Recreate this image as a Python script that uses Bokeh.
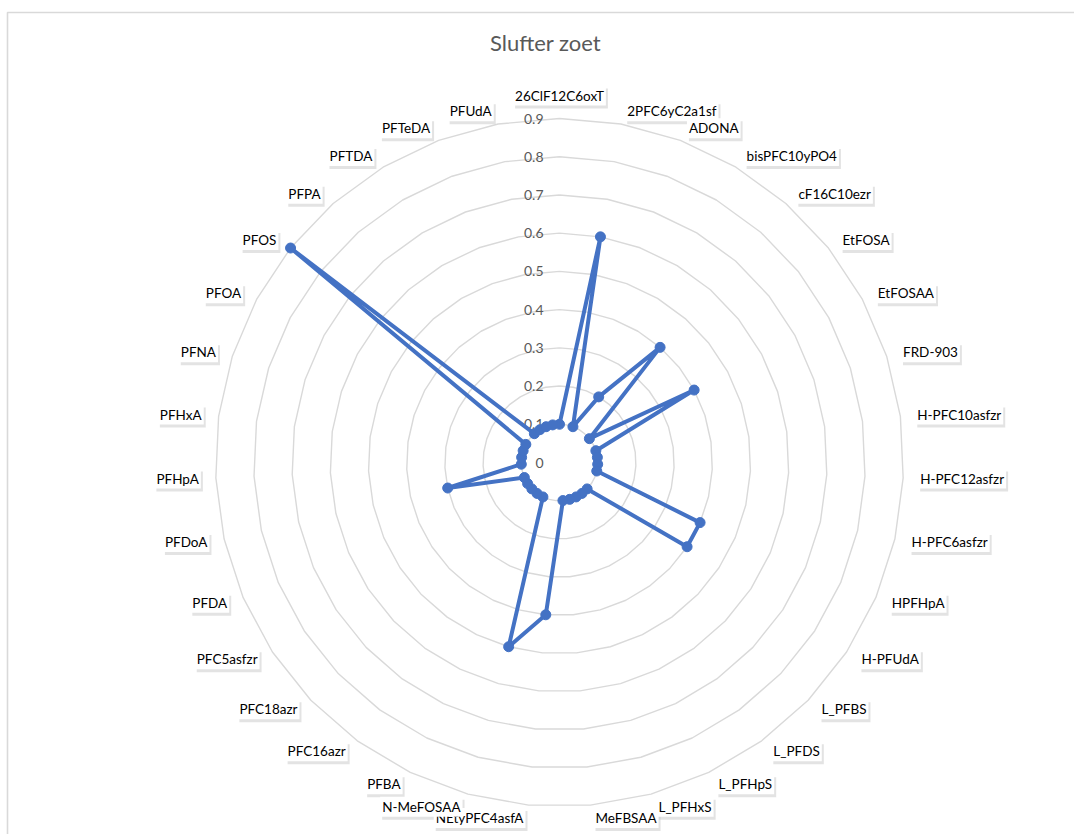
import numpy as np
from bokeh.plotting import figure
from bokeh.models import ColumnDataSource, Range1d
from bokeh.core.properties import value
from bokeh.embed import file_html
from bokeh.resources import INLINE

# ---- data -------------------------------------------------------------
title_text = "Slufter zoet"

categories = [
    "26ClF12C6oxT", "2PFC6yC2a1sf", "ADONA", "bisPFC10yPO4", "cF16C10ezr",
    "EtFOSA", "EtFOSAA", "FRD-903", "H-PFC10asfzr", "H-PFC12asfzr",
    "H-PFC6asfzr", "HPFHpA", "H-PFUdA", "L_PFBS", "L_PFDS",
    "L_PFHpS", "L_PFHxS", "MeFBSAA", "NEtyPFC4asfA", "N-MeFOSAA",
    "PFBA", "PFC16azr", "PFC18azr", "PFC5asfzr", "PFDA",
    "PFDoA", "PFHpA", "PFHxA", "PFNA", "PFOA",
    "PFOS", "PFPA", "PFTDA", "PFTeDA", "PFUdA",
]

concentration = [
    0.1, 0.6, 0.1, 0.2, 0.4,
    0.1, 0.4, 0.1, 0.1, 0.1,
    0.1, 0.4, 0.4, 0.1, 0.1,
    0.1, 0.1, 0.1, 0.4, 0.5,
    0.1, 0.1, 0.1, 0.1, 0.1,
    0.3, 0.1, 0.1, 0.1, 0.1,
    0.9, 0.1, 0.1, 0.1, 0.1,
]

ring_levels = [0.1, 0.2, 0.3, 0.4, 0.5, 0.6, 0.7, 0.8, 0.9]
tick_values = [0.0] + ring_levels
tick_labels = ["0", "0.1", "0.2", "0.3", "0.4", "0.5", "0.6", "0.7", "0.8", "0.9"]

# ---- layout (pixels) --------------------------------------------------
W, H = 1074, 834
CX, CY = 559, 462          # centre of the radar
R_OUT = 344                # radius of the outermost ring
R_MAX = ring_levels[-1]
PX = R_OUT / R_MAX         # pixels per unit
R_LABEL = 357 / PX         # radius where category labels are anchored

GRID = "#d9d9d9"
SERIES = "#4472C4"
TEXT_GREY = "#595959"
FONT = "Lato"


def to_data(px, py):
    return (px - CX) / PX, (CY - py) / PX


p = figure(
    width=W, height=H,
    x_range=Range1d(-CX / PX, (W - CX) / PX),
    y_range=Range1d(-(H - CY) / PX, CY / PX),
    x_axis_type=None, y_axis_type=None,
    output_backend="svg", toolbar_location=None, min_border=0,
)
p.grid.visible = False
p.outline_line_color = None
p.background_fill_color = "white"
p.border_fill_color = "white"

# chart area frame (left and top edges visible)
lx0, ly0 = to_data(7, 12)
lx1, ly1 = to_data(7, H + 10)
tx1, ty1 = to_data(W + 10, 12)
p.line([lx1, lx0, tx1], [ly1, ly0, ty1], line_color=GRID, line_width=1.6)

n = len(categories)
theta = 2 * np.pi * np.arange(n) / n
sin_t, cos_t = np.sin(theta), np.cos(theta)

# polygonal rings
ring_xs = [list(np.append(lvl * sin_t, lvl * sin_t[0])) for lvl in ring_levels]
ring_ys = [list(np.append(lvl * cos_t, lvl * cos_t[0])) for lvl in ring_levels]
p.multi_line(ring_xs, ring_ys, line_color=GRID, line_width=1.4)

# value axis labels
p.text(x=[0.0] * len(tick_values), y=tick_values, text=tick_labels,
       x_offset=-16, text_align="right", text_baseline="middle",
       text_font=value(FONT), text_font_size="14px", text_color=TEXT_GREY)

# series
vals = np.array(concentration)
sx = vals * sin_t
sy = vals * cos_t
p.line(list(np.append(sx, sx[0])), list(np.append(sy, sy[0])),
       line_color=SERIES, line_width=4, line_join="round")
p.scatter(sx, sy, size=10, fill_color=SERIES, line_color=SERIES)

# category labels
aligns, baselines = [], []
for s, c in zip(sin_t, cos_t):
    if abs(s) < 0.02:
        aligns.append("center")
        baselines.append("bottom" if c > 0 else "top")
    else:
        aligns.append("left" if s > 0 else "right")
        baselines.append("middle")

xo = [2 if a == "left" else (-2 if a == "right" else 0) for a in aligns]
lab_src = ColumnDataSource(dict(
    x=R_LABEL * sin_t, y=R_LABEL * cos_t, text=categories,
    align=aligns, baseline=baselines,
    xo=xo, xs=[v + 2 for v in xo],
))

# soft drop shadow behind each label box
p.text(x="x", y="y", text="text", source=lab_src, x_offset="xs", y_offset=3,
       text_align="align", text_baseline="baseline",
       text_font=value(FONT), text_font_size="13.5px", text_alpha=0.0,
       background_fill_color="#c8c8c8", background_fill_alpha=0.5,
       padding=2)
p.text(x="x", y="y", text="text", source=lab_src, x_offset="xo", y_offset=0,
       text_align="align", text_baseline="baseline",
       text_font=value(FONT), text_font_size="13.5px", text_color="black",
       background_fill_color="white", padding=2)

# title
ttx, tty = to_data(545, 42)
p.text(x=[ttx], y=[tty], text=[title_text], text_align="center",
       text_baseline="middle", text_font=value(FONT), text_font_size="22px",
       text_color=TEXT_GREY)

open("out.html", "w").write(file_html(p, INLINE))
